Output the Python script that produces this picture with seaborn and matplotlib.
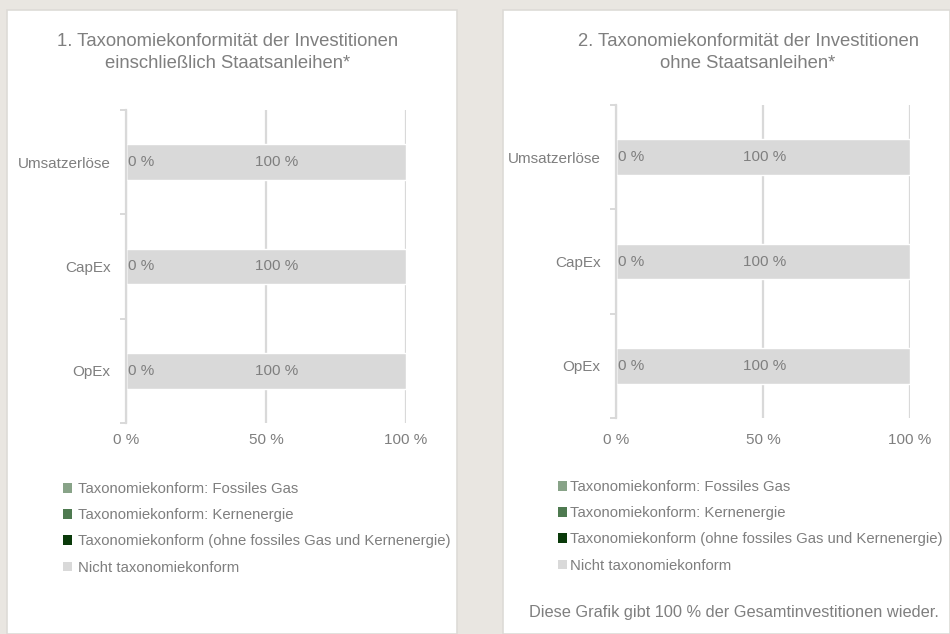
import matplotlib
matplotlib.use("Agg")
import matplotlib.pyplot as plt
from matplotlib.patches import Patch, Rectangle
from matplotlib.ticker import FixedLocator
import seaborn as sns
import pandas as pd

# --- data -----------------------------------------------------------------
categories = ["Umsatzerlöse", "CapEx", "OpEx"]

# chart 1: including sovereign bonds
gas_1 = [0, 0, 0]
nuclear_1 = [0, 0, 0]
aligned_1 = [0, 0, 0]
not_aligned_1 = [100, 100, 100]

# chart 2: excluding sovereign bonds
gas_2 = [0, 0, 0]
nuclear_2 = [0, 0, 0]
aligned_2 = [0, 0, 0]
not_aligned_2 = [100, 100, 100]

titles = [
    "1. Taxonomiekonformität der Investitionen\neinschließlich Staatsanleihen*",
    "2. Taxonomiekonformität der Investitionen\nohne Staatsanleihen*",
]
series_names = [
    "Taxonomiekonform: Fossiles Gas",
    "Taxonomiekonform: Kernenergie",
    "Taxonomiekonform (ohne fossiles Gas und Kernenergie)",
    "Nicht taxonomiekonform",
]
x_ticks = [0, 50, 100]
x_tick_labels = ["0 %", "50 %", "100 %"]
footnote = "Diese Grafik gibt 100 % der Gesamtinvestitionen wieder."

# --- style ----------------------------------------------------------------
colors = ["#88A388", "#4E7A50", "#0A3A0A", "#D9D9D9"]
TEXT = "#7F7F7F"
LINE = "#D9D9D9"
BG = "#E9E6E1"

sns.set_theme(style="white")
plt.rcParams["font.family"] = ["Liberation Sans", "DejaVu Sans"]

W, H = 950, 634
fig = plt.figure(figsize=(W / 100, H / 100), dpi=100, facecolor=BG)

# white cards behind each chart
for x0, x1 in [(7, 457), (503, 950)]:
    fig.patches.append(Rectangle((x0 / W, 0), (x1 - x0) / W, 1 - 10 / H,
                                 transform=fig.transFigure, facecolor="white",
                                 edgecolor="#DDDBD7", linewidth=1.2, zorder=-1))


def fx(px):
    return px / W


def fy(py):
    return 1 - py / H


def draw_chart(ax, gas, nuclear, aligned, not_aligned, label_dx, xpad):
    df = pd.DataFrame({"cat": categories, "gas": gas, "nuc": nuclear,
                       "ali": aligned, "non": not_aligned})
    df["c1"] = df["gas"]
    df["c2"] = df["c1"] + df["nuc"]
    df["c3"] = df["c2"] + df["ali"]
    df["c4"] = df["c3"] + df["non"]
    # stacked bars: draw cumulative totals from largest to smallest
    for col, colr in zip(["c4", "c3", "c2", "c1"], colors[::-1]):
        sns.barplot(data=df, x=col, y="cat", order=categories, color=colr,
                    width=0.34, orient="h", saturation=1, ax=ax, zorder=2)
    # value labels
    for i, row in df.iterrows():
        ax.annotate(f"{row['ali']:.0f} %", (row["c2"], i), xytext=(1.5, 0),
                    textcoords="offset points", ha="left", va="center",
                    fontsize=11, color=TEXT, zorder=5)
        mid = row["c3"] + row["non"] / 2
        ax.annotate(f"{row['non']:.0f} %", (mid, i), xytext=(label_dx, 0),
                    textcoords="offset points", ha="center", va="center",
                    fontsize=11, color=TEXT, zorder=5)

    ax.set_xlim(0, 100)
    ax.set_ylim(2.5, -0.5)
    ax.set_xlabel("")
    ax.set_ylabel("")
    ax.set_facecolor("none")
    ax.set_xticks(x_ticks)
    ax.set_xticklabels(x_tick_labels)
    ax.set_axisbelow(True)
    ax.xaxis.grid(True, color=LINE, linewidth=1.6)
    ax.yaxis.grid(False)
    for s in ["top", "right", "bottom"]:
        ax.spines[s].set_visible(False)
    ax.spines["left"].set_color(LINE)
    ax.spines["left"].set_linewidth(1.6)
    ax.tick_params(axis="x", length=0, pad=xpad, labelsize=11, labelcolor=TEXT)
    ax.tick_params(axis="y", which="major", length=0, pad=11,
                   labelsize=11, labelcolor=TEXT)
    ax.yaxis.set_minor_locator(FixedLocator([-0.5, 0.5, 1.5, 2.5]))
    ax.tick_params(axis="y", which="minor", length=4, width=1.4, color=LINE,
                   left=True)


ax1 = fig.add_axes([fx(126), fy(423), fx(406) - fx(126), fy(110) - fy(423)])
ax2 = fig.add_axes([fx(616), fy(418), fx(910) - fx(616), fy(105) - fy(418)])
ax1.set_zorder(2)
ax2.set_zorder(2)
draw_chart(ax1, gas_1, nuclear_1, aligned_1, not_aligned_1, label_dx=8, xpad=7.5)
draw_chart(ax2, gas_2, nuclear_2, aligned_2, not_aligned_2, label_dx=1, xpad=11)

fig.text(fx(228), fy(52.5), titles[0], ha="center", va="center",
         fontsize=13.3, color=TEXT, linespacing=1.4)
fig.text(fx(748), fy(52.5), titles[1], ha="center", va="center",
         fontsize=13.3, color=TEXT, linespacing=1.4)

handles = [Patch(facecolor=c, edgecolor="none") for c in colors]
for (x, y, pad) in [(63, 482, 0.4), (558, 480, 0.2)]:
    fig.legend(handles, series_names, loc="upper left",
               bbox_to_anchor=(fx(x), fy(y)), bbox_transform=fig.transFigure,
               frameon=False, fontsize=10.7, labelcolor=TEXT,
               handlelength=0.62, handleheight=0.62, handletextpad=pad,
               labelspacing=0.82, borderpad=0, borderaxespad=0)

fig.text(fx(734), fy(612), footnote, ha="center", va="center",
         fontsize=11.8, color=TEXT)

fig.savefig("out.png", dpi=100, facecolor=BG)
